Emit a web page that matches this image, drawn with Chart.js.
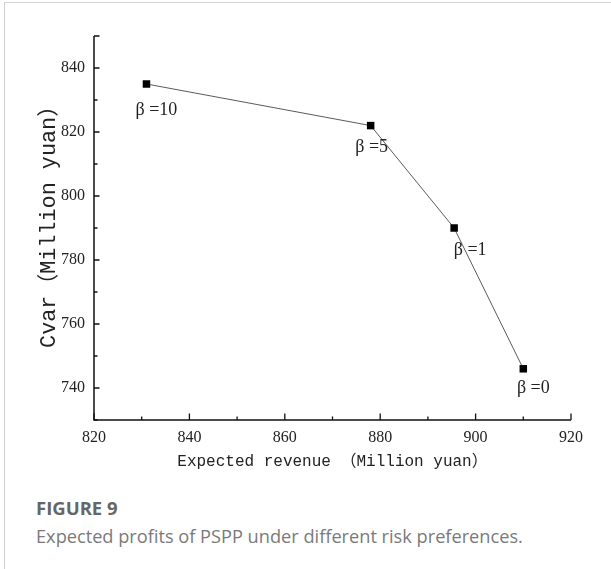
<!DOCTYPE html>
<html>
<head>
<meta charset="utf-8">
<script src="https://cdn.jsdelivr.net/npm/chart.js@4.4.0/dist/chart.umd.min.js"></script>
<style>
	body { margin: 0; background: #fff; }
	#frame { position: absolute; left: 4px; top: 2px; width: 607px; height: 567px; border-top: 1px solid #d2d2d2; border-left: 1px solid #d2d2d2; }
	#wrap { position: absolute; left: 0; top: 0; width: 611px; height: 480px; }
	#cap { position: absolute; left: 36px; top: 496px; font-family: "Open Sans", sans-serif; }
	#cap .t { font-weight: 700; font-size: 18.5px; line-height: 24px; color: #666; }
	#cap .d { font-size: 18.2px; line-height: 25px; margin-top: 4px; color: #7a7a7a; }
</style>
</head>
<body>
<div id="frame"></div>
<div id="wrap"><canvas id="myChart"></canvas></div>
<div id="cap">
	<div class="t">FIGURE 9</div>
	<div class="d">Expected profits of PSPP under different risk preferences.</div>
</div>
<script>
	// 데이터
	var revenue = [831, 878, 895.5, 910];
	var cvar = [835, 822, 790, 746];
	var betaLabels = ['β =10', 'β =5', 'β =1', 'β =0'];
	var xTicks = [820, 840, 860, 880, 900, 920];
	var yTicks = [740, 760, 780, 800, 820, 840];

	// 라벨 위치 (점 기준 오프셋)
	var labelOffsets = [[10, 26], [1, 22], [16, 22], [10, 19]];

	var points = [];
	$each = function(arr, fn){ for (var i = 0; i < arr.length; i++) fn(i, arr[i]); };
	$each(revenue, function(i, v){
		points.push({ x: v, y: cvar[i] });
	});

	// 축선 + 안쪽 눈금
	var axisPlugin = {
		id: 'axisPlugin',
		afterDraw: function(chart) {
			var ctx = chart.ctx, ca = chart.chartArea;
			var xs = chart.scales.x, ys = chart.scales.y;
			ctx.save();
			ctx.strokeStyle = '#111';
			ctx.lineWidth = 1.5;
			ctx.beginPath();
			ctx.moveTo(ca.left, ca.top);
			ctx.lineTo(ca.left, ca.bottom);
			ctx.lineTo(ca.right, ca.bottom);
			ctx.stroke();
			ctx.lineWidth = 1.3;
			ctx.beginPath();
			xs.ticks.forEach(function(t){
				var px = xs.getPixelForValue(t.value);
				var len = xTicks.indexOf(t.value) >= 0 ? 6.5 : 3.5;
				ctx.moveTo(px, ca.bottom);
				ctx.lineTo(px, ca.bottom - len);
			});
			ys.ticks.forEach(function(t){
				var py = ys.getPixelForValue(t.value);
				var len = (yTicks.indexOf(t.value) >= 0 || t.value == ys.max) ? 5.5 : 3.5;
				ctx.moveTo(ca.left, py);
				ctx.lineTo(ca.left + len, py);
			});
			ctx.stroke();
			ctx.restore();
		},
		afterDatasetsDraw: function(chart) {
			var ctx = chart.ctx;
			var meta = chart.getDatasetMeta(0);
			ctx.save();
			ctx.fillStyle = '#222';
			ctx.font = '18px "Liberation Serif", serif';
			ctx.textAlign = 'center';
			ctx.textBaseline = 'middle';
			$each(meta.data, function(i, el){
				ctx.fillText(betaLabels[i], el.x + labelOffsets[i][0], el.y + labelOffsets[i][1]);
			});
			ctx.restore();
		}
	};

	var ctx = document.getElementById('myChart').getContext('2d');

	window.chart_main = new Chart(ctx, {
		type: 'scatter',
		data: {
			datasets: [{
				data: points,
				showLine: true,
				borderColor: '#5a5a5a',
				borderWidth: 1,
				backgroundColor: '#000',
				pointStyle: 'rect',
				pointRadius: 5.3,
				pointHoverRadius: 5.3,
				pointBorderWidth: 0
			}]
		},
		options: {
			responsive: true,
			maintainAspectRatio: false,
			animation: false,
			layout: {
				padding: { top: 36, right: 40, left: 0, bottom: 0 }
			},
			plugins: {
				legend: { display: false },
				tooltip: { enabled: false }
			},
			scales: {
				x: {
					type: 'linear',
					min: 820,
					max: 920,
					grid: { display: false, drawTicks: false },
					border: { display: false },
					ticks: {
						stepSize: 10,
						autoSkip: false,
						maxRotation: 0,
						padding: 8,
						color: '#222',
						font: { family: '"Liberation Serif", serif', size: 16 },
						callback: function(v){ return xTicks.indexOf(v) >= 0 ? v : ''; }
					},
					title: {
						display: true,
						text: 'Expected revenue （Million yuan）',
						color: '#222',
						font: { family: '"Liberation Mono", "Noto Sans CJK SC", monospace', size: 16, lineHeight: 1.2 },
						padding: { top: 0, bottom: 8.7 }
					},
					afterFit: function(scale){ scale.height = 60; }
				},
				y: {
					min: 730,
					max: 850,
					grid: { display: false, drawTicks: false },
					border: { display: false },
					ticks: {
						stepSize: 10,
						autoSkip: false,
						padding: 9,
						color: '#222',
						font: { family: '"Liberation Serif", serif', size: 16 },
						callback: function(v){ return yTicks.indexOf(v) >= 0 ? v : ''; }
					},
					title: {
						display: true,
						text: ' Cvar（Million yuan）',
						color: '#222',
						font: { family: '"Liberation Mono", "Noto Sans CJK SC", monospace', size: 21.8, lineHeight: 1.2 },
						padding: { top: 36, bottom: 0 }
					},
					afterFit: function(scale){ scale.width = 94; }
				}
			}
		},
		plugins: [axisPlugin]
	});
</script>
</body>
</html>
